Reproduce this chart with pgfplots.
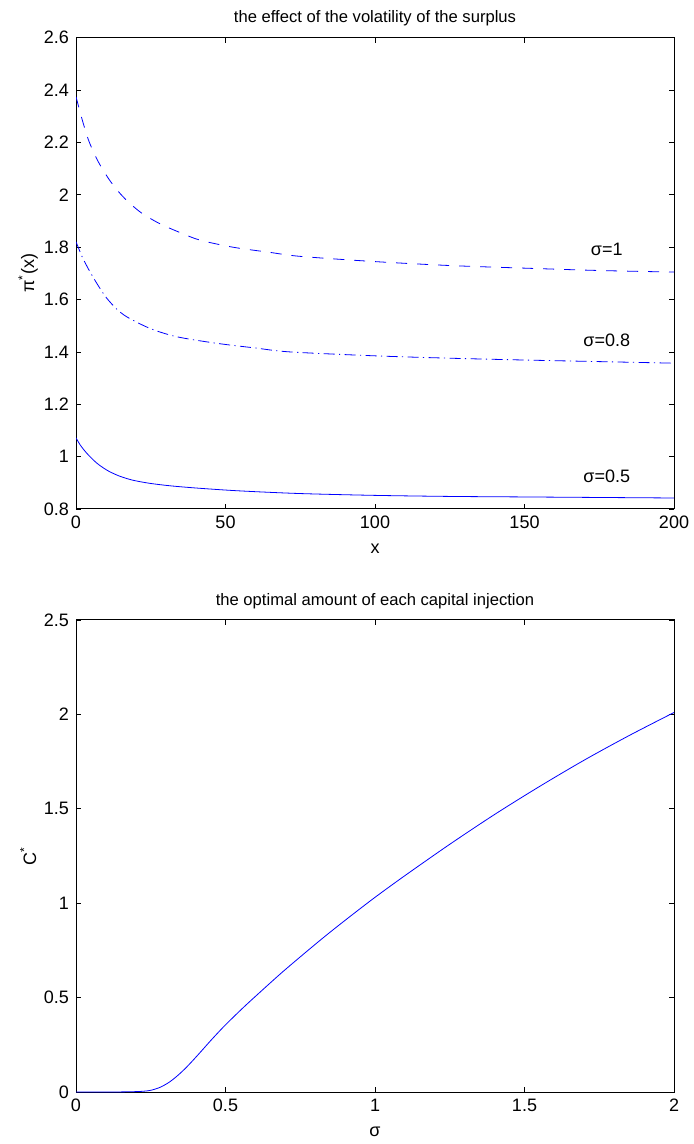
\documentclass[border=0pt]{standalone}
\usepackage{pgfplots}
\pgfplotsset{compat=1.18}
\usepackage{fontspec}
\setmainfont{Liberation Sans}

\pgfplotsset{
  mlab/.style={
    scale only axis,
    width=299pt,
    axis line style={line width=0.5pt},
    tick align=inside,
    xtick pos=both, ytick pos=both,
    xticklabel pos=lower, yticklabel pos=left,
    major tick length=2.5pt,
    tick style={line width=0.4pt, black},
    font=\fontsize{9}{10}\selectfont,
    /pgf/number format/assume math mode=true,
    /pgf/number format/fixed,
    title style={at={(axis description cs:0.5,1.045)}, anchor=center, yshift=-7pt, font=\fontsize{8.3}{9.5}\selectfont},
    xlabel style={at={(axis description cs:0.5,-0.085)}, anchor=center},
    ylabel style={at={(axis description cs:-0.08,0.5)}, anchor=center},
  }
}

\begin{document}
\begin{tikzpicture}
\path[use as bounding box] (0,0) rectangle (346.5pt,572pt);

% top: pi*(x)
\begin{axis}[
  mlab,
  at={(38pt,317.5pt)}, anchor=south west,
  height=235.6pt,
  xmin=0, xmax=200, ymin=0.8, ymax=2.6,
  xtick={0,50,100,150,200},
  ytick={0.8,1,1.2,1.4,1.6,1.8,2,2.2,2.4,2.6},
  title={the effect of the volatility of the surplus},
  xlabel={x},
  ylabel={π\textsuperscript{*}(x)},
]
\addplot[blue, line width=0.4pt, smooth, tension=0.5, dash pattern=on 5.5pt off 5pt] coordinates {
  (0,2.375) (2,2.29) (4,2.215) (6,2.16) (8,2.115) (11,2.06) (14,2.015) (17.3,1.975)
  (22,1.93) (28,1.89) (35,1.855) (41.5,1.827) (52.5,1.80) (65,1.78) (75,1.765)
  (100,1.745) (125,1.73) (150,1.72) (175,1.711) (200,1.705)
};
\addplot[blue, line width=0.4pt, smooth, tension=0.5, dash pattern=on 5.5pt off 2.2pt on 0.6pt off 2.2pt] coordinates {
  (0,1.821) (2,1.765) (4,1.72) (6,1.68) (8,1.643) (10.3,1.605) (13.5,1.565) (17,1.534)
  (24.7,1.49) (33.7,1.458) (47,1.433) (60,1.415) (71.6,1.40) (100,1.385)
  (125,1.376) (150,1.369) (175,1.363) (200,1.357)
};
\addplot[blue, line width=0.4pt, smooth, tension=0.5] coordinates {
  (0,1.072) (1.5,1.043) (3.6,1.013) (6,0.985) (8,0.966) (11,0.944) (14.7,0.925)
  (19,0.910) (24.7,0.898) (32,0.888) (41.5,0.879) (55,0.869) (74.9,0.859)
  (100,0.852) (125,0.848) (150,0.846) (175,0.844) (200,0.842)
};
\node at (axis cs:177.5,1.79) {σ=1};
\node at (axis cs:177.5,1.443) {σ=0.8};
\node at (axis cs:177.5,0.923) {σ=0.5};
\end{axis}

% bottom: C*
\begin{axis}[
  mlab,
  at={(38pt,26pt)}, anchor=south west,
  height=236pt,
  xmin=0, xmax=2, ymin=0, ymax=2.5,
  xtick={0,0.5,1,1.5,2},
  ytick={0,0.5,1,1.5,2,2.5},
  title={the optimal amount of each capital injection},
  xlabel={σ},
  ylabel={C\textsuperscript{*}},
]
\addplot[blue, line width=0.4pt, smooth, tension=0.5] coordinates {
  (0,0) (0.1,0) (0.15,0.0005) (0.2,0.002) (0.225,0.004) (0.25,0.009) (0.28,0.024)
  (0.31,0.05) (0.337,0.083) (0.365,0.124) (0.392,0.169) (0.42,0.218) (0.448,0.268)
  (0.476,0.316) (0.504,0.362) (0.56,0.448) (0.615,0.528) (0.688,0.632) (0.766,0.737)
  (0.84,0.834) (0.916,0.929) (1.0,1.031) (1.1,1.146) (1.25,1.312) (1.4,1.470)
  (1.55,1.618) (1.7,1.758) (1.85,1.888) (2.0,2.010)
};
\end{axis}
\end{tikzpicture}
\end{document}
